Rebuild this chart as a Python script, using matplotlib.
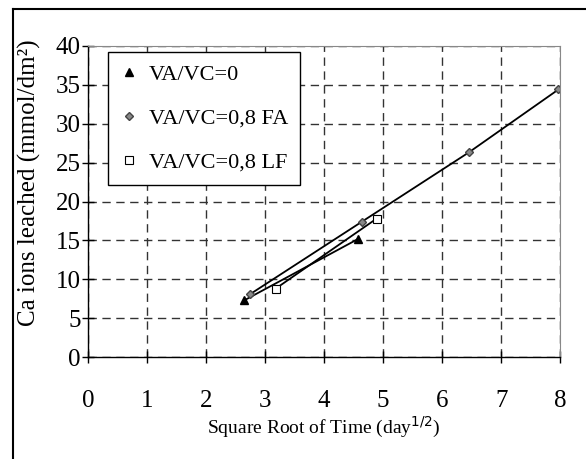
import numpy as np
import matplotlib
matplotlib.use("Agg")
import matplotlib.pyplot as plt
from matplotlib.lines import Line2D

# --- data

x_vc0 = [2.65, 4.58]
y_vc0 = [7.3, 15.2]

x_fa = [2.75, 4.64, 6.45, 7.97]
y_fa = [8.1, 17.4, 26.3, 34.4]

x_lf = [3.18, 4.89]
y_lf = [8.8, 17.8]

labels = ["VA/VC=0", "VA/VC=0,8 FA", "VA/VC=0,8 LF"]

plt.rcParams['font.family'] = ['Liberation Serif', 'DejaVu Serif']

fig = plt.figure(figsize=(5.86, 4.59), dpi=100)
ax = fig.add_axes([0.150, 0.222, 0.806, 0.678])

# outer frame (only top and left edges visible)
fig.add_artist(Line2D([13/586, 1.0], [1 - 9/459, 1 - 9/459], color='black', lw=1.5))
fig.add_artist(Line2D([13/586, 13/586], [0, 1 - 9/459], color='black', lw=1.5))

ax.plot(x_vc0, y_vc0, color='black', lw=1.3, marker='^', ms=5.5,
        mfc='black', mec='black', label=labels[0])
ax.plot(x_fa, y_fa, color='black', lw=1.3, marker='D', ms=4,
        mfc='#888888', mec='#444444', label=labels[1])
ax.plot(x_lf, y_lf, color='black', lw=1.3, marker='s', ms=6,
        mfc='white', mec='black', mew=0.8, label=labels[2])

ax.set_xlim(0, 8)
ax.set_ylim(0, 40)
ax.set_xticks(range(0, 9))
ax.set_yticks(range(0, 41, 5))
ax.grid(True, color='#333333', ls=(0, (6, 4)), lw=1.0)

for s in ['top', 'right']:
    ax.spines[s].set_color('#888888')
for s in ['left', 'bottom']:
    ax.spines[s].set_color('black')
    ax.spines[s].set_linewidth(1.0)

ax.tick_params(axis='both', direction='inout', length=8, width=1, labelsize=18)
ax.tick_params(axis='x', pad=20)
ax.tick_params(axis='y', pad=1)

ax.set_xlabel('Square Root of Time (day$^{1/2}$)', fontsize=14, labelpad=2)
ax.set_ylabel('Ca ions leached (mmol/dm²)', fontsize=18)
ax.yaxis.set_label_coords(-0.10, 0.56)

leg = ax.legend(loc='upper left', bbox_to_anchor=(0.042, 0.98), fontsize=16,
                frameon=True, fancybox=False, edgecolor='black', framealpha=1,
                handlelength=0.8, handletextpad=0.5, labelspacing=1.05,
                borderpad=0.55, borderaxespad=0, markerscale=1.0)
leg.get_frame().set_linewidth(1.0)
for h in leg.get_lines():
    h.set_linestyle('none')

plt.savefig('out.png', dpi=100)
